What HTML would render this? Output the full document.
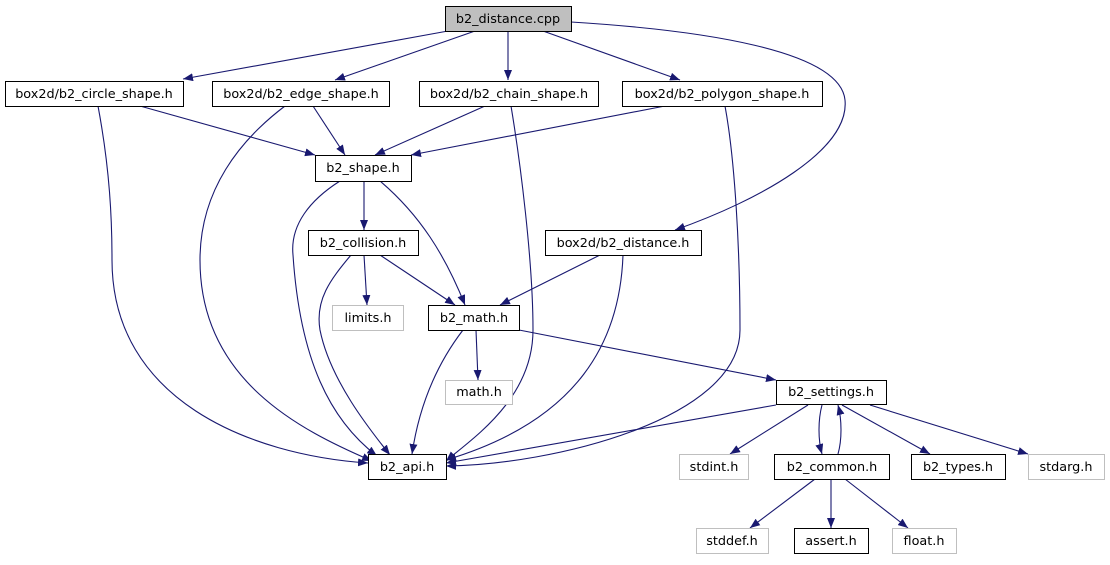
<!DOCTYPE html>
<html><head><meta charset="utf-8"><style>
body{margin:0;background:#fff;}
svg text{font-family:"DejaVu Sans","Liberation Sans",sans-serif;font-size:12.8px;text-anchor:middle;}
</style></head><body>
<svg width="1110" height="560" viewBox="0 0 1110 560" xmlns="http://www.w3.org/2000/svg">
<defs>
<marker id="a" markerUnits="userSpaceOnUse" markerWidth="11" markerHeight="8" refX="10" refY="4" orient="auto">
<path d="M0,0 L10,4 L0,8 Z" fill="#191970"/>
</marker>
</defs>
<g fill="none" stroke="#191970" stroke-width="1.1" marker-end="url(#a)">
<path d="M448,31 L183,79"/>
<path d="M475,31 L335,80"/>
<path d="M508,31 L508,80"/>
<path d="M543,31 L680,80"/>
<path d="M571,22 C700,30 840,50 845,100 C850,150 760,200 675,230"/>
<path d="M140,106 L315,155"/>
<path d="M98,106 C110,170 112,220 112,260 C112,400 250,455 368,463"/>
<path d="M313,106 L345,155"/>
<path d="M285,106 C240,140 200,190 200,260 C200,380 300,430 372,461"/>
<path d="M485,106 L375,155"/>
<path d="M511,106 C520,160 533,260 533,330 C533,400 470,440 446,461"/>
<path d="M665,106 L411,155"/>
<path d="M725,106 C735,160 740,250 740,330 C740,420 550,465 446,466"/>
<path d="M364,181 L364,230"/>
<path d="M380,181 C420,215 445,255 465,305"/>
<path d="M340,181 C310,200 290,225 293,255 C300,360 330,420 377,456"/>
<path d="M364,255 L367,305"/>
<path d="M380,255 L455,305"/>
<path d="M351,255 C330,280 315,300 320,330 C330,380 370,430 390,455"/>
<path d="M600,255 L500,305"/>
<path d="M623,255 C620,340 580,420 446,460"/>
<path d="M476,330 L478,380"/>
<path d="M463,330 C440,360 420,400 412,454"/>
<path d="M519,330 L776,380"/>
<path d="M776,405 L446,463"/>
<path d="M808,405 L730,454"/>
<path d="M822,405 C818,420 818,440 822,454"/>
<path d="M838,454 C842,440 842,420 838,405"/>
<path d="M842,405 L930,454"/>
<path d="M870,405 L1028,454"/>
<path d="M815,479 L750,528"/>
<path d="M831,479 L831,528"/>
<path d="M845,479 L908,528"/>
</g>
<g stroke-width="1">
<rect x="445.5" y="6.5" width="126" height="25" fill="#bfbfbf" stroke="#000"/>
<rect x="5.5" y="81.5" width="178" height="25" fill="#fff" stroke="#000"/>
<rect x="212.5" y="81.5" width="177" height="25" fill="#fff" stroke="#000"/>
<rect x="419.5" y="81.5" width="179" height="25" fill="#fff" stroke="#000"/>
<rect x="622.5" y="81.5" width="200" height="25" fill="#fff" stroke="#000"/>
<rect x="315.5" y="155.5" width="96" height="26" fill="#fff" stroke="#000"/>
<rect x="308.5" y="230.5" width="110" height="25" fill="#fff" stroke="#000"/>
<rect x="545.5" y="230.5" width="156" height="25" fill="#fff" stroke="#000"/>
<rect x="332.5" y="305.5" width="71" height="25" fill="#fff" stroke="#bfbfbf"/>
<rect x="428.5" y="305.5" width="91" height="25" fill="#fff" stroke="#000"/>
<rect x="445.5" y="380.5" width="67" height="24" fill="#fff" stroke="#bfbfbf"/>
<rect x="776.5" y="380.5" width="110" height="24" fill="#fff" stroke="#000"/>
<rect x="368.5" y="454.5" width="78" height="25" fill="#fff" stroke="#000"/>
<rect x="679.5" y="454.5" width="69" height="25" fill="#fff" stroke="#bfbfbf"/>
<rect x="774.5" y="454.5" width="115" height="25" fill="#fff" stroke="#000"/>
<rect x="911.5" y="454.5" width="94" height="25" fill="#fff" stroke="#000"/>
<rect x="1028.5" y="454.5" width="76" height="25" fill="#fff" stroke="#bfbfbf"/>
<rect x="696.5" y="528.5" width="72" height="25" fill="#fff" stroke="#bfbfbf"/>
<rect x="794.5" y="528.5" width="74" height="25" fill="#fff" stroke="#000"/>
<rect x="892.5" y="528.5" width="64" height="25" fill="#fff" stroke="#bfbfbf"/>
</g>
<g fill="#000">
<text x="508" y="23">b2_distance.cpp</text>
<text x="94" y="98">box2d/b2_circle_shape.h</text>
<text x="301" y="98">box2d/b2_edge_shape.h</text>
<text x="509" y="98">box2d/b2_chain_shape.h</text>
<text x="722" y="98">box2d/b2_polygon_shape.h</text>
<text x="363" y="172">b2_shape.h</text>
<text x="363" y="247">b2_collision.h</text>
<text x="623" y="247">box2d/b2_distance.h</text>
<text x="368" y="322">limits.h</text>
<text x="474" y="322">b2_math.h</text>
<text x="479" y="396">math.h</text>
<text x="831" y="396">b2_settings.h</text>
<text x="407" y="471">b2_api.h</text>
<text x="714" y="471">stdint.h</text>
<text x="832" y="471">b2_common.h</text>
<text x="958" y="471">b2_types.h</text>
<text x="1066" y="471">stdarg.h</text>
<text x="732" y="545">stddef.h</text>
<text x="831" y="545">assert.h</text>
<text x="924" y="545">float.h</text>
</g>
</svg>
</body></html>
